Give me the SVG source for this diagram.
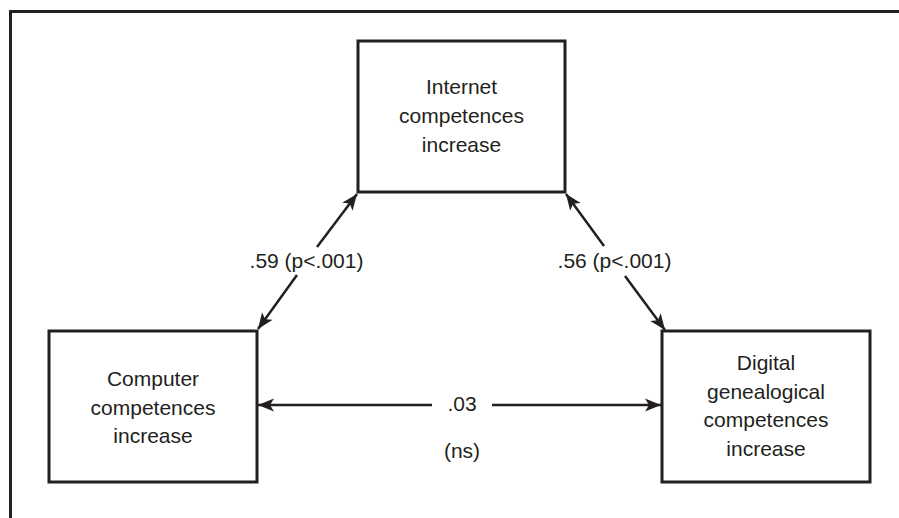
<svg xmlns="http://www.w3.org/2000/svg" width="899" height="518" viewBox="0 0 899 518">
<style>
.box{fill:#fff;stroke:#231f20;stroke-width:3}
.ln{stroke:#231f20;stroke-width:2.5;fill:none}
text{font-family:"Liberation Sans",Arial,sans-serif;font-size:21px;fill:#231f20;text-anchor:middle}
</style>
<defs>
<marker id="ah" markerUnits="userSpaceOnUse" viewBox="-17 -7 18 14" refX="0" refY="0" markerWidth="18" markerHeight="14" orient="auto">
<path d="M0,0 L-16,-6.5 L-12,0 L-16,6.5 Z" fill="#231f20"/>
</marker>
</defs>
<rect width="899" height="518" fill="#fff"/>
<path d="M10.5,518 V11.5 H899" fill="none" stroke="#231f20" stroke-width="3"/>
<g id="connectors">
<line class="ln" x1="317" y1="247" x2="357" y2="194" marker-end="url(#ah)"/>
<line class="ln" x1="297" y1="275" x2="258" y2="329" marker-end="url(#ah)"/>
<line class="ln" x1="604" y1="246" x2="566" y2="194" marker-end="url(#ah)"/>
<line class="ln" x1="625" y1="276" x2="665" y2="330" marker-end="url(#ah)"/>
<line class="ln" x1="432" y1="405" x2="258" y2="405" marker-end="url(#ah)"/>
<line class="ln" x1="492" y1="405" x2="661" y2="405" marker-end="url(#ah)"/>
<text x="306.5" y="268">.59 (p&lt;.001)</text>
<text x="614.5" y="268">.56 (p&lt;.001)</text>
<text x="462" y="411">.03</text>
<text x="462" y="458">(ns)</text>
</g>
<g id="internet">
<rect class="box" x="358" y="41" width="207" height="151"/>
<text x="461.5" y="94">Internet</text>
<text x="461.5" y="123">competences</text>
<text x="461.5" y="152">increase</text>
</g>
<g id="computer">
<rect class="box" x="49" y="331" width="208" height="151"/>
<text x="153" y="386">Computer</text>
<text x="153" y="415">competences</text>
<text x="153" y="443">increase</text>
</g>
<g id="digital">
<rect class="box" x="662" y="331" width="208" height="151"/>
<text x="766" y="370">Digital</text>
<text x="766" y="399">genealogical</text>
<text x="766" y="427">competences</text>
<text x="766" y="456">increase</text>
</g>
</svg>
